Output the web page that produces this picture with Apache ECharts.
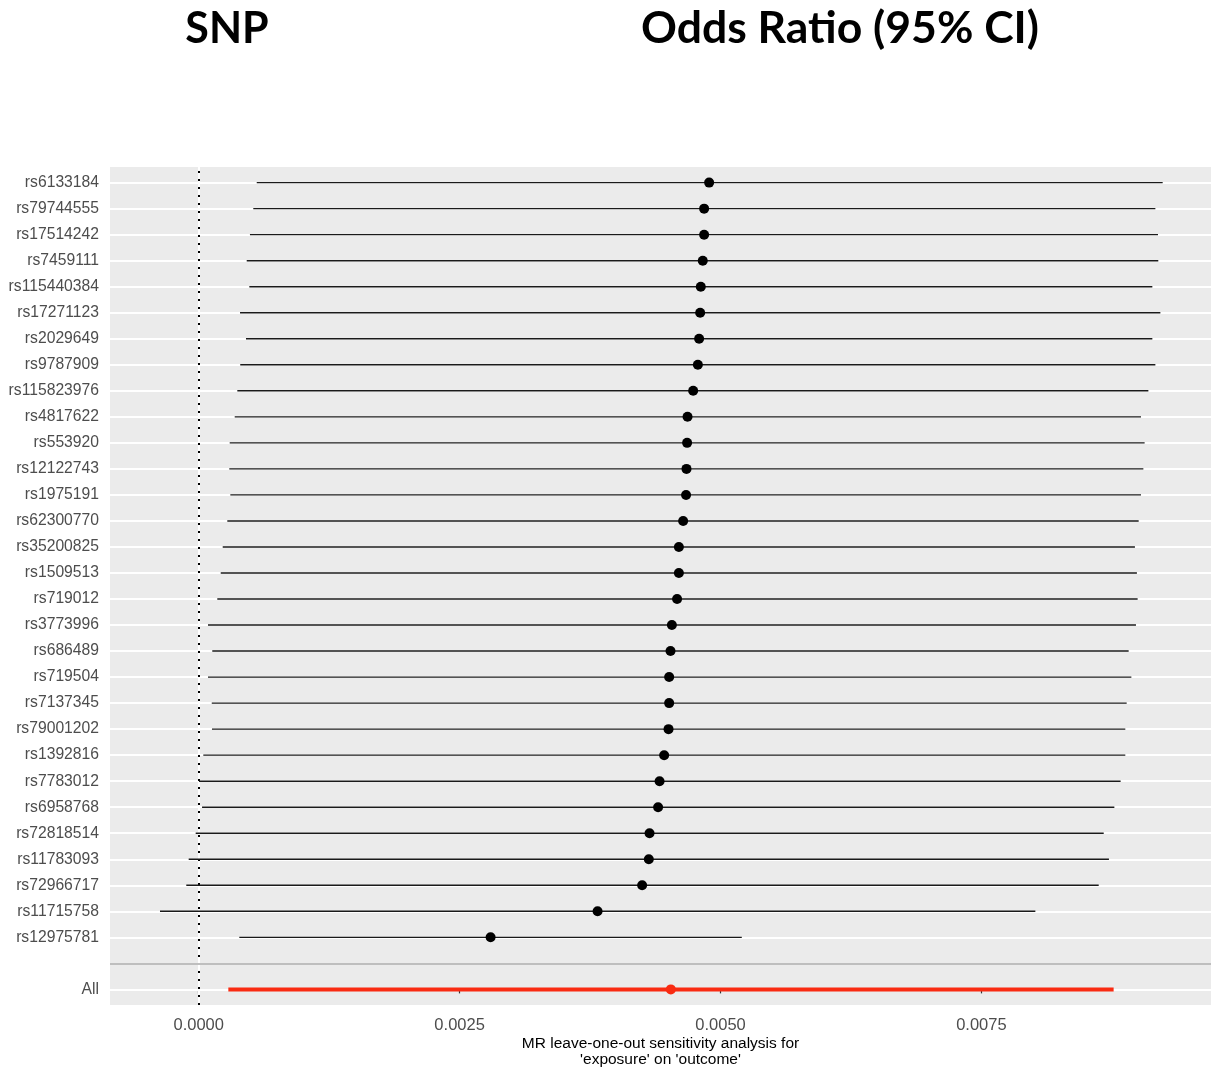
<!DOCTYPE html>
<html>
<head>
<meta charset="utf-8">
<script src="https://cdn.jsdelivr.net/npm/echarts@6/dist/echarts.min.js"></script>
<style>
html,body{margin:0;padding:0;background:#fff;}
#chart{width:1211px;height:1067px;}
</style>
</head>
<body>
<div id="chart"></div>
<script>
// SNPs, top to bottom
const snps = ['rs6133184','rs79744555','rs17514242','rs7459111','rs115440384','rs17271123','rs2029649','rs9787909','rs115823976','rs4817622','rs553920','rs12122743','rs1975191','rs62300770','rs35200825','rs1509513','rs719012','rs3773996','rs686489','rs719504','rs7137345','rs79001202','rs1392816','rs7783012','rs6958768','rs72818514','rs11783093','rs72966717','rs11715758','rs12975781'];
const estimates = [0.004891,0.004843,0.004843,0.004830,0.004811,0.004805,0.004795,0.004783,0.004738,0.004684,0.004680,0.004674,0.004670,0.004642,0.004601,0.004601,0.004584,0.004534,0.004521,0.004508,0.004508,0.004502,0.004460,0.004416,0.004402,0.004320,0.004313,0.004249,0.003822,0.002797];
const lowerCI = [0.000556,0.000523,0.000491,0.000460,0.000485,0.000396,0.000453,0.000398,0.000370,0.000345,0.000297,0.000293,0.000303,0.000274,0.000230,0.000211,0.000178,0.000089,0.000130,0.000089,0.000125,0.000127,0.000044,0.000003,0.000032,-0.000029,-0.000096,-0.000119,-0.000371,0.000389];
const upperCI = [0.009237,0.009167,0.009192,0.009195,0.009138,0.009215,0.009138,0.009167,0.009100,0.009029,0.009064,0.009052,0.009029,0.009007,0.008971,0.008990,0.008997,0.008981,0.008911,0.008937,0.008892,0.008879,0.008879,0.008834,0.008774,0.008672,0.008722,0.008624,0.008017,0.005204];
const allLabel = 'All';
const allEstimate = 0.004524;
const allLower = 0.000284;
const allUpper = 0.008767;
const xTicks = [0, 0.0025, 0.005, 0.0075];
const xMinor = [0.00125, 0.00375, 0.00625, 0.00875];
const xTitle = "MR leave-one-out sensitivity analysis for\n'exposure' on 'outcome'";

// y levels bottom-up: All, blank separator, then SNPs
const yLabels = [allLabel, ''].concat(snps.slice().reverse());
const yIndex = name => yLabels.indexOf(name);
const yPositions = yLabels.map((_, i) => i);

const barData = snps.map((s, i) => [lowerCI[i], upperCI[i], yIndex(s)]);
const pointData = snps.map((s, i) => [estimates[i], yIndex(s)]);
const allBar = [[allLower, allUpper, yIndex(allLabel)]];
const allPoint = [[allEstimate, yIndex(allLabel)]];

const font = 'Liberation Sans, Arial, Helvetica, sans-serif';
const red = '#F92B12';

function barRender(color, width) {
  return function (params, api) {
    const p1 = api.coord([api.value(0), api.value(2)]);
    const p2 = api.coord([api.value(1), api.value(2)]);
    return {type: 'line', shape: {x1: p1[0], y1: p1[1], x2: p2[0], y2: p2[1]},
      style: {stroke: color, lineWidth: width}};
  };
}

const chart = echarts.init(document.getElementById('chart'), null, {renderer: 'canvas'});
chart.setOption({
  animation: false,
  backgroundColor: '#ffffff',
  graphic: [
    {type: 'text', style: {text: 'SNP', x: 227, y: 29, textAlign: 'center', textVerticalAlign: 'middle', font: 'bold 43px Lato, "Open Sans", sans-serif', fill: '#000'}},
    {type: 'text', style: {text: 'Odds Ratio (95% CI)', x: 840, y: 29, textAlign: 'center', textVerticalAlign: 'middle', font: 'bold 44.5px Lato, "Open Sans", sans-serif', fill: '#000'}}
  ],
  grid: {left: 110, right: 0, top: 167, bottom: 62, show: true, backgroundColor: '#EBEBEB', borderWidth: 0, outerBoundsMode: 'none', containLabel: false},
  xAxis: {
    type: 'value', min: -0.00085, max: 0.0097,
    axisLine: {show: false},
    splitLine: {show: false},
    axisTick: {show: true, customValues: xTicks, length: 4, lineStyle: {color: '#333333', width: 1.2}},
    axisLabel: {customValues: xTicks, formatter: v => v.toFixed(4), color: '#4D4D4D', fontSize: 16.5, fontFamily: font, margin: 12},
    name: xTitle, nameLocation: 'middle', nameGap: 31, nameMoveOverlap: false,
    nameTextStyle: {color: '#000', fontSize: 15.5, fontFamily: font, lineHeight: 16}
  },
  yAxis: {
    type: 'value', min: -0.6, max: 31.6,
    axisLine: {show: false},
    splitLine: {show: false},
    axisTick: {show: false},
    axisLabel: {customValues: yPositions, formatter: v => yLabels[Math.round(v)], color: '#4D4D4D', fontSize: 15.7, fontFamily: font, margin: 11}
  },
  series: [
    {
      type: 'scatter', data: [], z: 1, silent: true,
      markLine: {
        z: 1, silent: true, symbol: ['none', 'none'], label: {show: false}, animation: false,
        data: xMinor.map(v => ({xAxis: v, lineStyle: {color: '#ffffff', width: 1, type: 'solid'}}))
          .concat(xTicks.map(v => ({xAxis: v, lineStyle: {color: '#ffffff', width: 2, type: 'solid'}})))
          .concat(yPositions.map(v => ({yAxis: v, lineStyle: {color: '#ffffff', width: 2, type: 'solid'}})))
      }
    },
    {
      type: 'scatter', data: [], z: 2, silent: true,
      markLine: {
        z: 2, silent: true, symbol: ['none', 'none'], label: {show: false}, animation: false,
        data: [{xAxis: 0, lineStyle: {color: '#000000', width: 2, type: [2, 6]}}]
      }
    },
    {type: 'custom', data: barData, z: 3, renderItem: barRender('#1a1a1a', 1.4), encode: {x: [0, 1], y: 2}},
    {type: 'custom', data: allBar, z: 3, renderItem: barRender(red, 4), encode: {x: [0, 1], y: 2}},
    {type: 'scatter', data: pointData, z: 4, symbol: 'circle', symbolSize: 10, itemStyle: {color: '#000000', opacity: 1}},
    {type: 'scatter', data: allPoint, z: 4, symbol: 'circle', symbolSize: 10, itemStyle: {color: red, opacity: 1}},
    {
      type: 'scatter', data: [], z: 5, silent: true,
      markLine: {
        z: 5, silent: true, symbol: ['none', 'none'], label: {show: false}, animation: false,
        data: [{yAxis: yIndex(''), lineStyle: {color: '#BEBEBE', width: 2, type: 'solid'}}]
      }
    }
  ]
});
</script>
</body>
</html>
